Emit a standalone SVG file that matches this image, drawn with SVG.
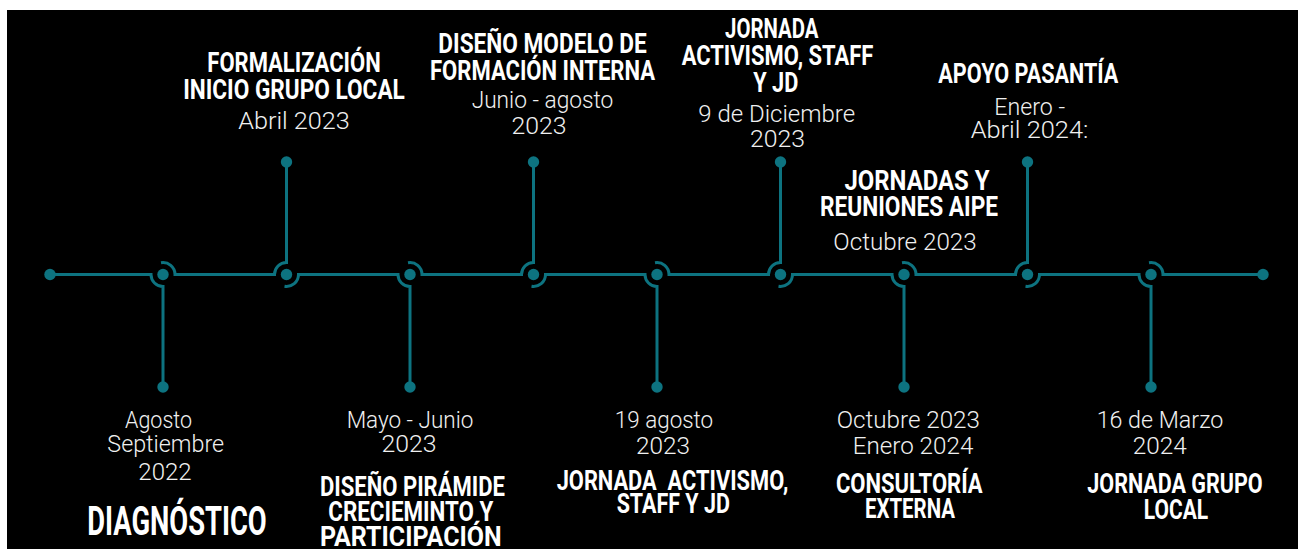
<svg xmlns="http://www.w3.org/2000/svg" width="1298" height="549" viewBox="0 0 1298 549">
<style>
.t{font-family:Roboto,"Liberation Sans",sans-serif;font-weight:700;font-size:28px;fill:#ffffff;text-anchor:middle}
.big{font-size:40px}
.d{font-family:Roboto,"Liberation Sans",sans-serif;font-weight:300;font-size:23px;fill:#f0f0f0;text-anchor:middle}
.ln{fill:none;stroke:#0d7380;stroke-width:3}
.dot{fill:#0d7380}
</style>
<rect x="0" y="0" width="1298" height="549" fill="#ffffff"/>
<rect x="7" y="10" width="1291" height="539" fill="#000000"/>
<g id="connectors">
<path class="ln" d="M50,274.5 H151 A12,12 0 0 0 163,286.5 V387"/>
<path class="ln" d="M161,262.7 A12,12 0 0 1 175,274.5 H274.5 A12,12 0 0 1 286.5,262.5 V162"/>
<path class="ln" d="M284.5,286.3 A12,12 0 0 0 298.5,274.5 H398 A12,12 0 0 0 410,286.5 V387"/>
<path class="ln" d="M408,262.7 A12,12 0 0 1 422,274.5 H521.5 A12,12 0 0 1 533.5,262.5 V162"/>
<path class="ln" d="M531.5,286.3 A12,12 0 0 0 545.5,274.5 H645 A12,12 0 0 0 657,286.5 V387"/>
<path class="ln" d="M655,262.7 A12,12 0 0 1 669,274.5 H768.5 A12,12 0 0 1 780.5,262.5 V162"/>
<path class="ln" d="M778.5,286.3 A12,12 0 0 0 792.5,274.5 H892 A12,12 0 0 0 904,286.5 V387"/>
<path class="ln" d="M902,262.7 A12,12 0 0 1 916,274.5 H1015.5 A12,12 0 0 1 1027.5,262.5 V162"/>
<path class="ln" d="M1025.5,286.3 A12,12 0 0 0 1039.5,274.5 H1139 A12,12 0 0 0 1151,286.5 V387"/>
<path class="ln" d="M1149,262.7 A12,12 0 0 1 1163,274.5 H1263"/>
<circle class="dot" cx="50" cy="274.5" r="5.7"/>
<circle class="dot" cx="1263" cy="274.5" r="5.7"/>
</g>
<g id="node1">
<circle class="dot" cx="163" cy="274.5" r="5.7"/>
<circle class="dot" cx="163" cy="387" r="5.7"/>
<text class="d" x="158.5" y="428" textLength="67" lengthAdjust="spacingAndGlyphs">Agosto</text>
<text class="d" x="165.7" y="452.3" textLength="116.7" lengthAdjust="spacingAndGlyphs">Septiembre</text>
<text class="d" x="165" y="480" textLength="53.3" lengthAdjust="spacingAndGlyphs">2022</text>
<text class="t big" x="177" y="535" textLength="179.4" lengthAdjust="spacingAndGlyphs">DIAGNÓSTICO</text>
</g>
<g id="node2">
<circle class="dot" cx="286.5" cy="274.5" r="5.7"/>
<circle class="dot" cx="286.5" cy="162" r="5.7"/>
<text class="t" x="294" y="72.3" textLength="173.3" lengthAdjust="spacingAndGlyphs">FORMALIZACIÓN</text>
<text class="t" x="294" y="99.3" textLength="221.7" lengthAdjust="spacingAndGlyphs">INICIO GRUPO LOCAL</text>
<text class="d" x="294" y="129" textLength="111.7" lengthAdjust="spacingAndGlyphs">Abril 2023</text>
</g>
<g id="node3">
<circle class="dot" cx="410" cy="274.5" r="5.7"/>
<circle class="dot" cx="410" cy="387" r="5.7"/>
<text class="d" x="410" y="428.3" textLength="126.7" lengthAdjust="spacingAndGlyphs">Mayo - Junio</text>
<text class="d" x="409" y="452.3" textLength="55" lengthAdjust="spacingAndGlyphs">2023</text>
<text class="t" x="412.5" y="496" textLength="185" lengthAdjust="spacingAndGlyphs">DISEÑO PIRÁMIDE</text>
<text class="t" x="410.8" y="521" textLength="165" lengthAdjust="spacingAndGlyphs">CRECIEMINTO Y</text>
<text class="t" x="410.8" y="545.5" textLength="181.7" lengthAdjust="spacingAndGlyphs">PARTICIPACIÓN</text>
</g>
<g id="node4">
<circle class="dot" cx="533.5" cy="274.5" r="5.7"/>
<circle class="dot" cx="533.5" cy="162" r="5.7"/>
<text class="t" x="542.5" y="52.7" textLength="208.3" lengthAdjust="spacingAndGlyphs">DISEÑO MODELO DE</text>
<text class="t" x="542.5" y="80" textLength="225" lengthAdjust="spacingAndGlyphs">FORMACIÓN INTERNA</text>
<text class="d" x="542.5" y="108.3" textLength="141.7" lengthAdjust="spacingAndGlyphs">Junio - agosto</text>
<text class="d" x="539" y="134" textLength="55" lengthAdjust="spacingAndGlyphs">2023</text>
</g>
<g id="node5">
<circle class="dot" cx="657" cy="274.5" r="5.7"/>
<circle class="dot" cx="657" cy="387" r="5.7"/>
<text class="d" x="664" y="428.3" textLength="98.3" lengthAdjust="spacingAndGlyphs">19 agosto</text>
<text class="d" x="663" y="454.3" textLength="54" lengthAdjust="spacingAndGlyphs">2023</text>
<text class="t" x="672.5" y="490" textLength="231.7" lengthAdjust="spacingAndGlyphs" xml:space="preserve">JORNADA  ACTIVISMO,</text>
<text class="t" x="673.3" y="513.3" textLength="113.3" lengthAdjust="spacingAndGlyphs">STAFF Y JD</text>
</g>
<g id="node6">
<circle class="dot" cx="780.5" cy="274.5" r="5.7"/>
<circle class="dot" cx="780.5" cy="162" r="5.7"/>
<text class="t" x="771.7" y="38.3" textLength="93.3" lengthAdjust="spacingAndGlyphs">JORNADA</text>
<text class="t" x="777.5" y="65" textLength="191.7" lengthAdjust="spacingAndGlyphs">ACTIVISMO, STAFF</text>
<text class="t" x="775.8" y="91.7" textLength="45" lengthAdjust="spacingAndGlyphs">Y JD</text>
<text class="d" x="776.7" y="121.7" textLength="156.7" lengthAdjust="spacingAndGlyphs">9 de Diciembre</text>
<text class="d" x="777.5" y="147.3" textLength="55" lengthAdjust="spacingAndGlyphs">2023</text>
</g>
<g id="note-aipe">
<text class="t" x="917" y="190" textLength="145" lengthAdjust="spacingAndGlyphs">JORNADAS Y</text>
<text class="t" x="909" y="216" textLength="178" lengthAdjust="spacingAndGlyphs">REUNIONES AIPE</text>
<text class="d" x="905" y="250" textLength="143.3" lengthAdjust="spacingAndGlyphs">Octubre 2023</text>
</g>
<g id="node7">
<circle class="dot" cx="904" cy="274.5" r="5.7"/>
<circle class="dot" cx="904" cy="387" r="5.7"/>
<text class="d" x="908.3" y="428.3" textLength="143.3" lengthAdjust="spacingAndGlyphs">Octubre 2023</text>
<text class="d" x="913" y="454.3" textLength="120.7" lengthAdjust="spacingAndGlyphs">Enero 2024</text>
<text class="t" x="909.3" y="493.3" textLength="146.7" lengthAdjust="spacingAndGlyphs">CONSULTORÍA</text>
<text class="t" x="910" y="518.3" textLength="90" lengthAdjust="spacingAndGlyphs">EXTERNA</text>
</g>
<g id="node8">
<circle class="dot" cx="1027.5" cy="274.5" r="5.7"/>
<circle class="dot" cx="1027.5" cy="162" r="5.7"/>
<text class="t" x="1028.3" y="83.3" textLength="180" lengthAdjust="spacingAndGlyphs">APOYO PASANTÍA</text>
<text class="d" x="1029.7" y="115" textLength="70.7" lengthAdjust="spacingAndGlyphs">Enero -</text>
<text class="d" x="1029.5" y="138.3" textLength="117.7" lengthAdjust="spacingAndGlyphs">Abril 2024:</text>
</g>
<g id="node9">
<circle class="dot" cx="1151" cy="274.5" r="5.7"/>
<circle class="dot" cx="1151" cy="387" r="5.7"/>
<text class="d" x="1160" y="428.3" textLength="126.7" lengthAdjust="spacingAndGlyphs">16 de Marzo</text>
<text class="d" x="1159.7" y="454" textLength="54" lengthAdjust="spacingAndGlyphs">2024</text>
<text class="t" x="1175" y="492.7" textLength="175.3" lengthAdjust="spacingAndGlyphs">JORNADA GRUPO</text>
<text class="t" x="1176" y="519" textLength="64.3" lengthAdjust="spacingAndGlyphs">LOCAL</text>
</g>
</svg>
